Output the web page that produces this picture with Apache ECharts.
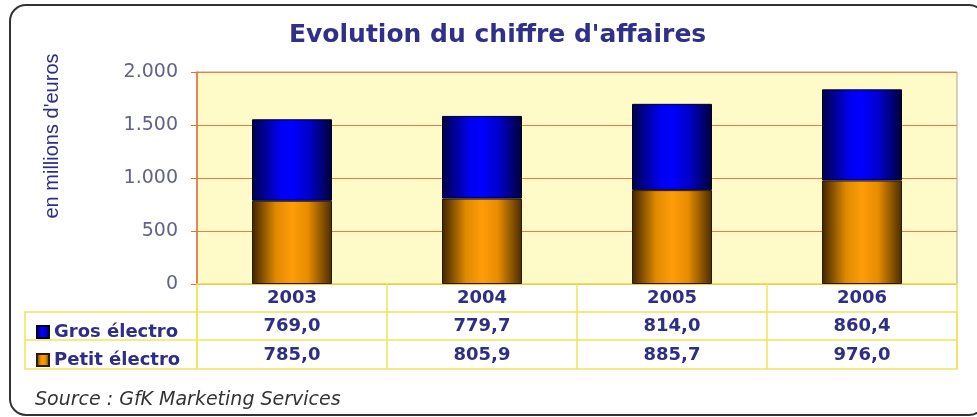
<!DOCTYPE html>
<html>
<head>
<meta charset="utf-8">
<script src="https://cdn.jsdelivr.net/npm/echarts@6/dist/echarts.min.js"></script>
<style>
  html, body { margin: 0; padding: 0; background: #ffffff; }
  #main { width: 977px; height: 417px; }
</style>
</head>
<body>
<div id="main"></div>
<script>
// données
var years = ['2003', '2004', '2005', '2006'];
var grosElectro = [769.0, 779.7, 814.0, 860.4];
var petitElectro = [785.0, 805.9, 885.7, 976.0];
var yTicks = [0, 500, 1000, 1500, 2000];

function fmtThousands(v) {
    return String(v).replace(/\B(?=(\d{3})+(?!\d))/g, '.');
}
function fmtDec(v) {
    return v.toFixed(1).replace('.', ',');
}

var navy = '#2e2e86';
var yellowLine = '#f2e45a';
var tableFont = { fontFamily: 'DejaVu Sans', fontWeight: 'bold', fontSize: 18, color: navy };

var myChart = echarts.init(document.getElementById('main'));
myChart.setOption({
    animation: false,
    backgroundColor: '#ffffff',
    title: {
        text: "Evolution du chiffre d'affaires",
        left: 284,
        top: 18,
        textStyle: { fontFamily: 'DejaVu Sans', fontSize: 25, fontWeight: 'bold', color: '#30308a' }
    },
    legend: {
        orient: 'vertical',
        left: 31,
        top: 317,
        itemWidth: 12,
        itemHeight: 12,
        itemGap: 8,
        icon: 'rect',
        data: ['Gros électro', 'Petit électro'],
        textStyle: { fontFamily: 'DejaVu Sans', fontWeight: 'bold', fontSize: 18, color: navy, lineHeight: 20 }
    },
    grid: {
        left: 197, top: 72, width: 760, height: 212,
        show: true,
        backgroundColor: '#fffbc9',
        borderColor: '#aaa48c',
        borderWidth: 1
    },
    xAxis: [
        {
            type: 'category',
            data: years,
            axisLine: { lineStyle: { color: yellowLine, width: 1.5 } },
            axisTick: { show: true, length: 85, interval: 0, lineStyle: { color: yellowLine, width: 1.5 } },
            axisLabel: Object.assign({ margin: 5 }, tableFont)
        },
        {
            type: 'category',
            data: years,
            position: 'bottom',
            offset: 28,
            axisLine: { show: false },
            axisTick: { show: false },
            axisLabel: Object.assign({ margin: 5, formatter: function (v, i) { return fmtDec(grosElectro[i]); } }, tableFont)
        },
        {
            type: 'category',
            data: years,
            position: 'bottom',
            offset: 56,
            axisLine: { show: false },
            axisTick: { show: false },
            axisLabel: Object.assign({ margin: 6, formatter: function (v, i) { return fmtDec(petitElectro[i]); } }, tableFont)
        }
    ],
    yAxis: {
        type: 'value',
        min: yTicks[0],
        max: yTicks[yTicks.length - 1],
        interval: 500,
        axisLine: { show: true, lineStyle: { color: '#ee6a3a', width: 1.5 } },
        axisTick: { show: true, length: 6, lineStyle: { color: '#ee6a3a' } },
        axisLabel: {
            margin: 19,
            fontFamily: 'DejaVu Sans',
            fontSize: 19,
            color: '#62628a',
            formatter: fmtThousands
        },
        splitLine: { lineStyle: { color: '#f07a44', width: 1.2 } }
    },
    series: [
        {
            name: 'Petit électro',
            type: 'bar',
            stack: 'total',
            barWidth: 80,
            data: petitElectro,
            itemStyle: {
                borderColor: '#2a1a00',
                borderWidth: 1,
                color: new echarts.graphic.LinearGradient(0, 0, 1, 0, [
                    { offset: 0, color: '#3e2400' },
                    { offset: 0.3, color: '#e08a00' },
                    { offset: 0.5, color: '#ff9c0a' },
                    { offset: 0.7, color: '#e88c00' },
                    { offset: 1, color: '#4a2c00' }
                ])
            }
        },
        {
            name: 'Gros électro',
            type: 'bar',
            stack: 'total',
            barWidth: 80,
            data: grosElectro,
            itemStyle: {
                borderColor: '#000020',
                borderWidth: 1,
                color: new echarts.graphic.LinearGradient(0, 0, 1, 0, [
                    { offset: 0, color: '#00004a' },
                    { offset: 0.35, color: '#0000f0' },
                    { offset: 0.5, color: '#0000ff' },
                    { offset: 0.72, color: '#0000c8' },
                    { offset: 1, color: '#000038' }
                ])
            }
        }
    ],
    graphic: [
        {
            type: 'rect',
            shape: { x: 10, y: 5, width: 975, height: 410, r: 16 },
            style: { fill: null, stroke: '#333333', lineWidth: 2 },
            z: -1
        },
        {
            type: 'rect',
            shape: { x: 25, y: 312, width: 932, height: 57 },
            style: { fill: null, stroke: yellowLine, lineWidth: 1.5 }
        },
        {
            type: 'line',
            shape: { x1: 25, y1: 340, x2: 957, y2: 340 },
            style: { stroke: yellowLine, lineWidth: 1.5 }
        },
        {
            type: 'line',
            shape: { x1: 197, y1: 284, x2: 197, y2: 369 },
            style: { stroke: yellowLine, lineWidth: 1.5 }
        },
        {
            type: 'text',
            x: 52, y: 136,
            rotation: Math.PI / 2,
            style: {
                text: "en millions d'euros",
                fontFamily: 'Liberation Sans',
                fontSize: 20,
                fill: navy,
                align: 'center',
                verticalAlign: 'middle'
            }
        },
        {
            type: 'text',
            x: 35, y: 400,
            style: {
                text: 'Source : GfK Marketing Services',
                fontFamily: 'DejaVu Sans',
                fontStyle: 'italic',
                fontSize: 19,
                fill: '#333333',
                verticalAlign: 'middle'
            }
        }
    ]
});
</script>
</body>
</html>
